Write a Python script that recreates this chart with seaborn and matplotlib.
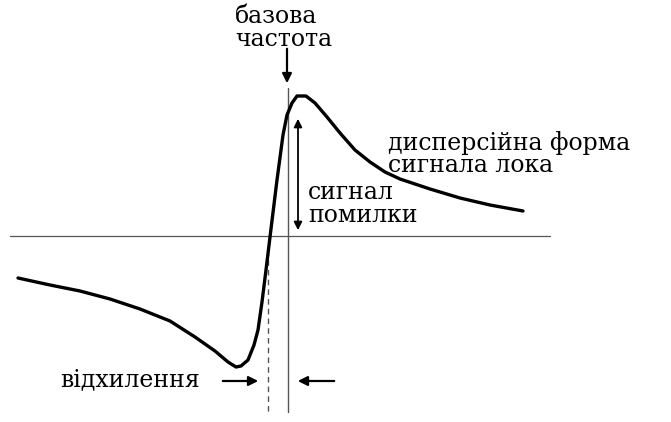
import pandas as pd
import matplotlib.pyplot as plt
import seaborn as sns

# ============================================
# DATA (pixel units)
# ============================================

curve_x = [18, 50, 80, 110, 140, 170, 195, 215, 228, 236, 241, 248, 254, 258, 262, 266, 270, 277,
           283, 287, 292, 297, 306, 315, 327, 340, 355, 370, 385, 400, 430, 460, 490, 523]
curve_y = [278, 285, 291, 299, 309, 321, 337, 351, 362, 367, 366, 360, 345, 330, 302, 270, 237, 180,
           135, 115, 103, 96, 96, 103, 117, 133, 150, 162, 172, 179, 189, 198, 205, 211]

base_label = "базова\nчастота"
curve_label = "дисперсійна форма\nсигнала лока"
error_label = "сигнал\nпомилки"
offset_label = "відхилення"

df = pd.DataFrame({"x": curve_x, "y": curve_y})

# ============================================
# PLOT
# ============================================

sns.set_style("white")
plt.rcParams["font.family"] = ["DejaVu Serif"]
plt.rcParams["text.color"] = "black"

fig = plt.figure(figsize=(6.71, 4.22), dpi=100)
ax = fig.add_axes([0, 0, 1, 1])
ax.set_xlim(0, 671)
ax.set_ylim(422, 0)
ax.axis("off")

# axes of the sketch
ax.plot([10, 550], [236, 236], color="#555555", lw=0.9)
ax.plot([288, 288], [88, 412], color="#555555", lw=1.0)
ax.plot([268, 268], [250, 412], color="#555555", lw=1.0, ls=(0, (4, 3)))

# curve
sns.lineplot(data=df, x="x", y="y", sort=False, color="black", lw=2.4, ax=ax)

arrow = dict(arrowstyle="-|>", color="black", lw=1.6, mutation_scale=14)
ax.annotate("", xy=(287, 86), xytext=(287, 46), arrowprops=arrow)
ax.annotate("", xy=(261, 381), xytext=(220, 381), arrowprops=arrow)
ax.annotate("", xy=(295, 381), xytext=(337, 381), arrowprops=arrow)
ax.annotate("", xy=(298, 233), xytext=(298, 116),
            arrowprops=dict(arrowstyle="<|-|>", color="black", lw=1.3, mutation_scale=12))

ax.text(235, 28, base_label, ha="left", va="center", fontsize=17, linespacing=0.95)
ax.text(388, 154, curve_label, ha="left", va="center", fontsize=17, linespacing=0.95)
ax.text(308, 204, error_label, ha="left", va="center", fontsize=17, linespacing=0.95)
ax.text(60, 380, offset_label, ha="left", va="center", fontsize=17)

plt.savefig("out.png", dpi=100)
